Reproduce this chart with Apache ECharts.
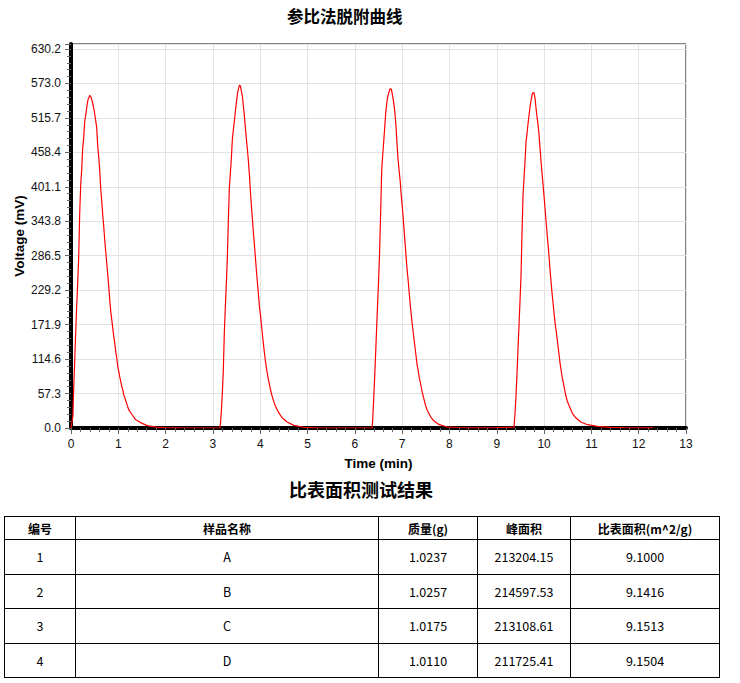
<!DOCTYPE html>
<html>
<head>
<meta charset="utf-8">
<script src="https://cdn.jsdelivr.net/npm/echarts@6/dist/echarts.min.js"></script>
<style>
  html, body { margin: 0; padding: 0; background: #fff; }
  #wrap { position: relative; width: 740px; height: 683px; overflow: hidden; }
  #chart { position: absolute; left: 0; top: 0; width: 740px; height: 505px; }
  #tbl { position: absolute; left: 4px; top: 516px; width: 715px; border-collapse: collapse; table-layout: fixed;
         font-family: "Noto Sans CJK SC", "Noto Sans", sans-serif; font-size: 12px; color: #000; }
  #tbl th, #tbl td { border: 1px solid #000; text-align: center; padding: 0; }
  #tbl th { height: 22px; font-weight: bold; }
  #tbl td { height: 33.5px; font-size: 12.5px; }
</style>
</head>
<body>
<div id="wrap">
  <div id="chart"></div>
  <table id="tbl"></table>
</div>
<script>
// ---- chart data (time in min, voltage in mV) ----
const peak1 = [[0.00,0],[0.04,19],[0.057,66],[0.078,110],[0.099,158],[0.12,202],[0.141,241],[0.162,282],[0.184,357],[0.205,404],[0.226,429],[0.247,465],[0.268,482],[0.29,510],[0.318,524],[0.339,537],[0.36,546],[0.395,553],[0.42,551],[0.459,540],[0.487,529],[0.515,515],[0.544,499],[0.565,468],[0.586,451],[0.607,429],[0.628,399],[0.65,377],[0.671,354],[0.692,335],[0.713,313],[0.734,293],[0.756,274],[0.777,255],[0.798,235],[0.819,213],[0.84,194],[0.862,180],[0.883,166],[0.904,152],[0.925,141],[0.946,127],[0.968,116],[0.989,102],[1.01,94],[1.031,85],[1.052,77],[1.074,69],[1.095,63],[1.116,55],[1.151,47],[1.187,38],[1.222,30],[1.293,22],[1.363,14],[1.469,9],[1.61,4],[1.79,1.6],[2.0,0.5],[2.28,0.2],[3.0,0]];
const peak2 = [[3.142,0],[3.157,5.5],[3.178,28],[3.199,58],[3.22,97],[3.242,161],[3.263,202],[3.284,241],[3.305,283],[3.326,344],[3.347,399],[3.369,424],[3.39,449],[3.411,480],[3.432,496],[3.453,510],[3.475,527],[3.496,541],[3.517,555],[3.538,563],[3.559,570],[3.58,569],[3.602,560],[3.623,552],[3.644,535],[3.665,519],[3.686,499],[3.708,480],[3.729,463],[3.75,444],[3.771,421],[3.792,394],[3.814,369],[3.835,347],[3.856,324],[3.877,305],[3.898,283],[3.92,261],[3.941,241],[3.962,222],[3.983,202],[4.004,188],[4.025,172],[4.047,155],[4.068,139],[4.089,125],[4.11,111],[4.131,100],[4.153,89],[4.174,80],[4.195,72],[4.216,64],[4.251,53],[4.287,44],[4.322,36],[4.393,25],[4.463,17],[4.569,10],[4.71,4.4],[4.922,1.2],[5.2,0.3],[5.42,0],[6.2,0]];
const peak3 = [[6.363,0],[6.377,13],[6.398,47],[6.419,85],[6.441,127],[6.462,169],[6.483,210],[6.504,249],[6.525,296],[6.547,363],[6.568,429],[6.589,454],[6.61,476],[6.631,499],[6.653,524],[6.674,540],[6.695,551],[6.716,557],[6.744,564],[6.773,563],[6.801,551],[6.829,537],[6.85,521],[6.871,501],[6.893,471],[6.914,446],[6.935,429],[6.956,413],[6.977,391],[6.999,371],[7.02,352],[7.041,329],[7.062,307],[7.083,285],[7.105,263],[7.126,246],[7.147,227],[7.168,207],[7.189,191],[7.211,174],[7.232,160],[7.253,146],[7.274,133],[7.295,119],[7.316,105],[7.338,96],[7.359,85],[7.38,77],[7.401,69],[7.422,60],[7.458,49],[7.493,38],[7.528,30],[7.599,19],[7.669,12],[7.775,6],[7.93,2],[8.178,0.8],[8.46,0.2],[9.0,0.5]];
const peak4 = [[9.364,1.5],[9.386,24],[9.407,54],[9.428,90],[9.449,132],[9.47,171],[9.492,213],[9.513,254],[9.534,326],[9.555,387],[9.576,415],[9.597,443],[9.619,476],[9.64,490],[9.661,506],[9.682,520],[9.703,534],[9.725,545],[9.746,554],[9.767,558],[9.788,557],[9.809,548],[9.831,531],[9.852,517],[9.873,504],[9.894,487],[9.915,465],[9.936,443],[9.958,423],[9.979,404],[10.0,384],[10.021,365],[10.042,343],[10.064,323],[10.085,304],[10.106,284],[10.127,262],[10.148,243],[10.17,223],[10.191,207],[10.212,190],[10.233,174],[10.254,163],[10.275,149],[10.297,135],[10.318,121],[10.339,107],[10.36,96],[10.381,85],[10.403,77],[10.424,68],[10.459,54],[10.494,44],[10.53,37],[10.6,24],[10.671,17],[10.777,10],[10.918,5.5],[11.13,2.7],[11.41,1],[11.69,0.5],[12.3,0.2]];

const yTickLabels = ['0.0','57.3','114.6','171.9','229.2','286.5','343.8','401.1','458.4','515.7','573.0','630.2'];
const yTop = 638.5;

// ---- table data ----
const tableHeader = ['编号','样品名称','质量(g)','峰面积','比表面积(m^2/g)'];
const sampleNo = ['1','2','3','4'];
const sampleName = ['A','B','C','D'];
const massG = ['1.0237','1.0257','1.0175','1.0110'];
const peakArea = ['213204.15','214597.53','213108.61','211725.41'];
const specificArea = ['9.1000','9.1416','9.1513','9.1504'];

// build table
(function () {
  const tbl = document.getElementById('tbl');
  const widths = [71, 303, 99, 93, 149];
  let html = '<colgroup>' + widths.map(w => '<col style="width:' + w + 'px">').join('') + '</colgroup>';
  html += '<tr>' + tableHeader.map(h => '<th>' + h + '</th>').join('') + '</tr>';
  for (let i = 0; i < sampleNo.length; i++) {
    html += '<tr><td>' + sampleNo[i] + '</td><td>' + sampleName[i] + '</td><td>' + massG[i] +
            '</td><td>' + peakArea[i] + '</td><td>' + specificArea[i] + '</td></tr>';
  }
  tbl.innerHTML = html;
})();

const chart = echarts.init(document.getElementById('chart'), null, { renderer: 'svg' });
const yInterval = 630.2 / 11;
const latin = '"Liberation Sans", Arial, sans-serif';
const cjk = '"Noto Sans CJK SC", sans-serif';

chart.setOption({
  animation: false,
  backgroundColor: '#fff',
  title: [
    { text: '参比法脱附曲线', left: 287, top: 8, padding: 0,
      textStyle: { fontFamily: cjk, fontSize: 16.5, fontWeight: 'bold', color: '#000' } },
    { text: '比表面积测试结果', left: 289, top: 480, padding: 0,
      textStyle: { fontFamily: cjk, fontSize: 18, fontWeight: 'bold', color: '#000' } }
  ],
  grid: { left: 71, right: 54, top: 44, bottom: 77, containLabel: false, outerBoundsMode: 'none',
          show: true, borderColor: '#000', borderWidth: 1, backgroundColor: 'transparent' },
  xAxis: {
    type: 'value', min: 0, max: 13, interval: 1, offset: 2,
    name: 'Time (min)', nameLocation: 'middle', nameGap: 26, nameMoveOverlap: false,
    nameTextStyle: { fontFamily: latin, fontSize: 13.5, fontWeight: 'bold', color: '#000' },
    axisLine: { show: true, lineStyle: { color: '#000', width: 4 } },
    axisTick: { show: true, length: 6, lineStyle: { color: '#666', width: 1 } },
    minorTick: { show: true, splitNumber: 5, length: 4, lineStyle: { color: '#666', width: 1 } },
    axisLabel: { fontFamily: latin, fontSize: 12, color: '#111', margin: 8 },
    splitLine: { show: true, lineStyle: { color: '#e3e3e3', width: 1 } }
  },
  yAxis: {
    type: 'value', min: 0, max: yTop, interval: yInterval, offset: 2,
    name: 'Voltage (mV)', nameLocation: 'middle', nameGap: 43, nameRotate: 90, nameMoveOverlap: false,
    nameTextStyle: { fontFamily: latin, fontSize: 13.5, fontWeight: 'bold', color: '#000' },
    axisLine: { show: true, lineStyle: { color: '#000', width: 4 } },
    axisTick: { show: true, length: 6, lineStyle: { color: '#666', width: 1 } },
    minorTick: { show: true, splitNumber: 5, length: 4, lineStyle: { color: '#666', width: 1 } },
    axisLabel: { fontFamily: latin, fontSize: 12, color: '#111', margin: 8,
      formatter: function (value) {
        const i = Math.round(value / yInterval);
        if (Math.abs(i * yInterval - value) > 0.01) return '';
        return yTickLabels[i] !== undefined ? yTickLabels[i] : '';
      } },
    splitLine: { show: true, lineStyle: { color: '#e3e3e3', width: 1 } }
  },
  series: [{
    type: 'line',
    data: [].concat(peak1, peak2, peak3, peak4),
    showSymbol: false,
    symbol: 'none',
    lineStyle: { color: '#ff0000', width: 1.2 },
    itemStyle: { color: '#ff0000' }
  }]
});
</script>
</body>
</html>
